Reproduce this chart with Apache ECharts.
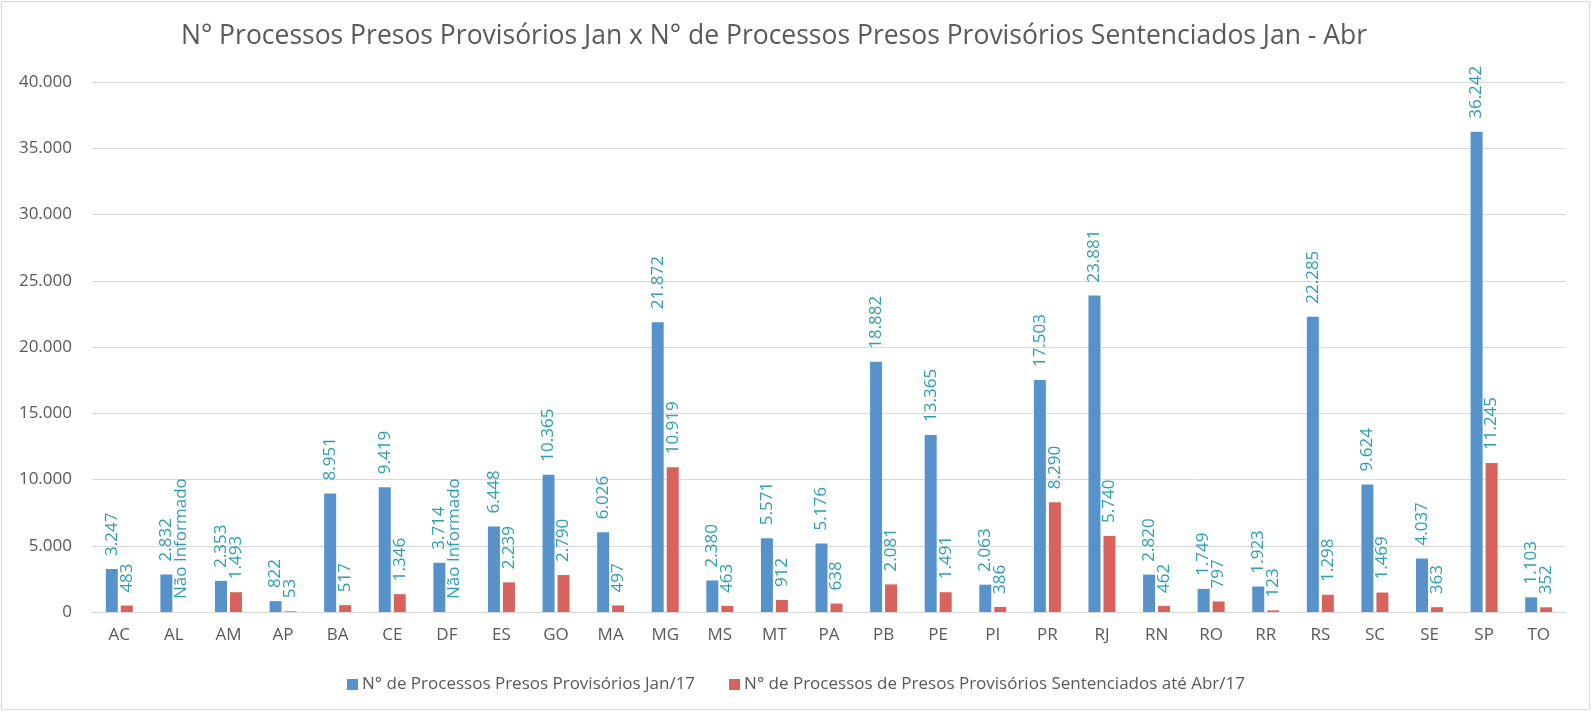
<!DOCTYPE html>
<html>
<head>
<meta charset="utf-8">
<script src="https://cdn.jsdelivr.net/npm/echarts@6/dist/echarts.min.js"></script>
<style>
  html, body { margin: 0; padding: 0; background: #fff; }
  #main { width: 1592px; height: 712px; }
</style>
</head>
<body>
<div id="main"></div>
<script>
const categories = ['AC', 'AL', 'AM', 'AP', 'BA', 'CE', 'DF', 'ES', 'GO', 'MA', 'MG', 'MS', 'MT', 'PA',
    'PB', 'PE', 'PI', 'PR', 'RJ', 'RN', 'RO', 'RR', 'RS', 'SC', 'SE', 'SP', 'TO'];
const presosJan = [3247, 2832, 2353, 822, 8951, 9419, 3714, 6448, 10365, 6026, 21872, 2380, 5571, 5176,
    18882, 13365, 2063, 17503, 23881, 2820, 1749, 1923, 22285, 9624, 4037, 36242, 1103];
// null = "Não Informado"
const sentenciadosAbr = [483, null, 1493, 53, 517, 1346, null, 2239, 2790, 497, 10919, 463, 912, 638,
    2081, 1491, 386, 8290, 5740, 462, 797, 123, 1298, 1469, 363, 11245, 352];
const serieNames = ['N° de Processos Presos Provisórios Jan/17',
    'N° de Processos de Presos Provisórios Sentenciados até Abr/17'];

const FONT = 'Open Sans';
const GRAY = '#595959';

// 12345 -> "12.345"
function fmt(v) {
    return String(v).replace(/\B(?=(\d{3})+(?!\d))/g, '.');
}

const chart = echarts.init(document.getElementById('main'));

const labelStyle = {
    show: true,
    position: 'top',
    rotate: 90,
    align: 'left',
    verticalAlign: 'middle',
    distance: 13,
    color: '#2E9DB2',
    fontFamily: FONT,
    fontSize: 17,
    formatter: p => fmt(p.value)
};

let option = {
    backgroundColor: '#ffffff',
    animation: false,
    title: {
        text: 'N° Processos Presos Provisórios Jan x N° de Processos Presos Provisórios Sentenciados Jan - Abr',
        left: 769,
        textAlign: 'center',
        top: 18,
        textStyle: { color: GRAY, fontFamily: FONT, fontSize: 26.5, fontWeight: 'normal' }
    },
    graphic: [{
        type: 'rect',
        shape: { x: 1.5, y: 1.5, width: 1588, height: 708 },
        style: { fill: 'none', stroke: '#d9d9d9', lineWidth: 1 },
        silent: true
    }],
    legend: {
        top: 671,
        left: 'center',
        icon: 'rect',
        itemWidth: 11,
        itemHeight: 11,
        itemGap: 34,
        textStyle: { color: GRAY, fontFamily: FONT, fontSize: 17, padding: [0, 0, 0, -1] },
        data: serieNames
    },
    grid: { left: 92, right: 26, top: 82, bottom: 100 },
    xAxis: {
        type: 'category',
        data: categories,
        axisLine: { lineStyle: { color: '#d9d9d9' } },
        axisTick: { show: false },
        axisLabel: { color: GRAY, fontFamily: FONT, fontSize: 17, margin: 15 }
    },
    yAxis: {
        type: 'value',
        min: 0,
        max: 40000,
        interval: 5000,
        axisLine: { show: false },
        axisTick: { show: false },
        splitLine: { lineStyle: { color: '#d9d9d9' } },
        axisLabel: { color: GRAY, fontFamily: FONT, fontSize: 17, margin: 20, formatter: v => fmt(v) }
    },
    series: [{
        name: serieNames[0],
        type: 'bar',
        barWidth: 12,
        barGap: '25%',
        itemStyle: { color: '#5793CA' },
        label: labelStyle,
        data: presosJan
    }, {
        name: serieNames[1],
        type: 'bar',
        barWidth: 12,
        itemStyle: { color: '#D7635C' },
        label: labelStyle,
        data: sentenciadosAbr.map(v => v === null
            ? { value: 0, label: { formatter: 'Não Informado' } }
            : v)
    }]
};

chart.setOption(option);
</script>
</body>
</html>
